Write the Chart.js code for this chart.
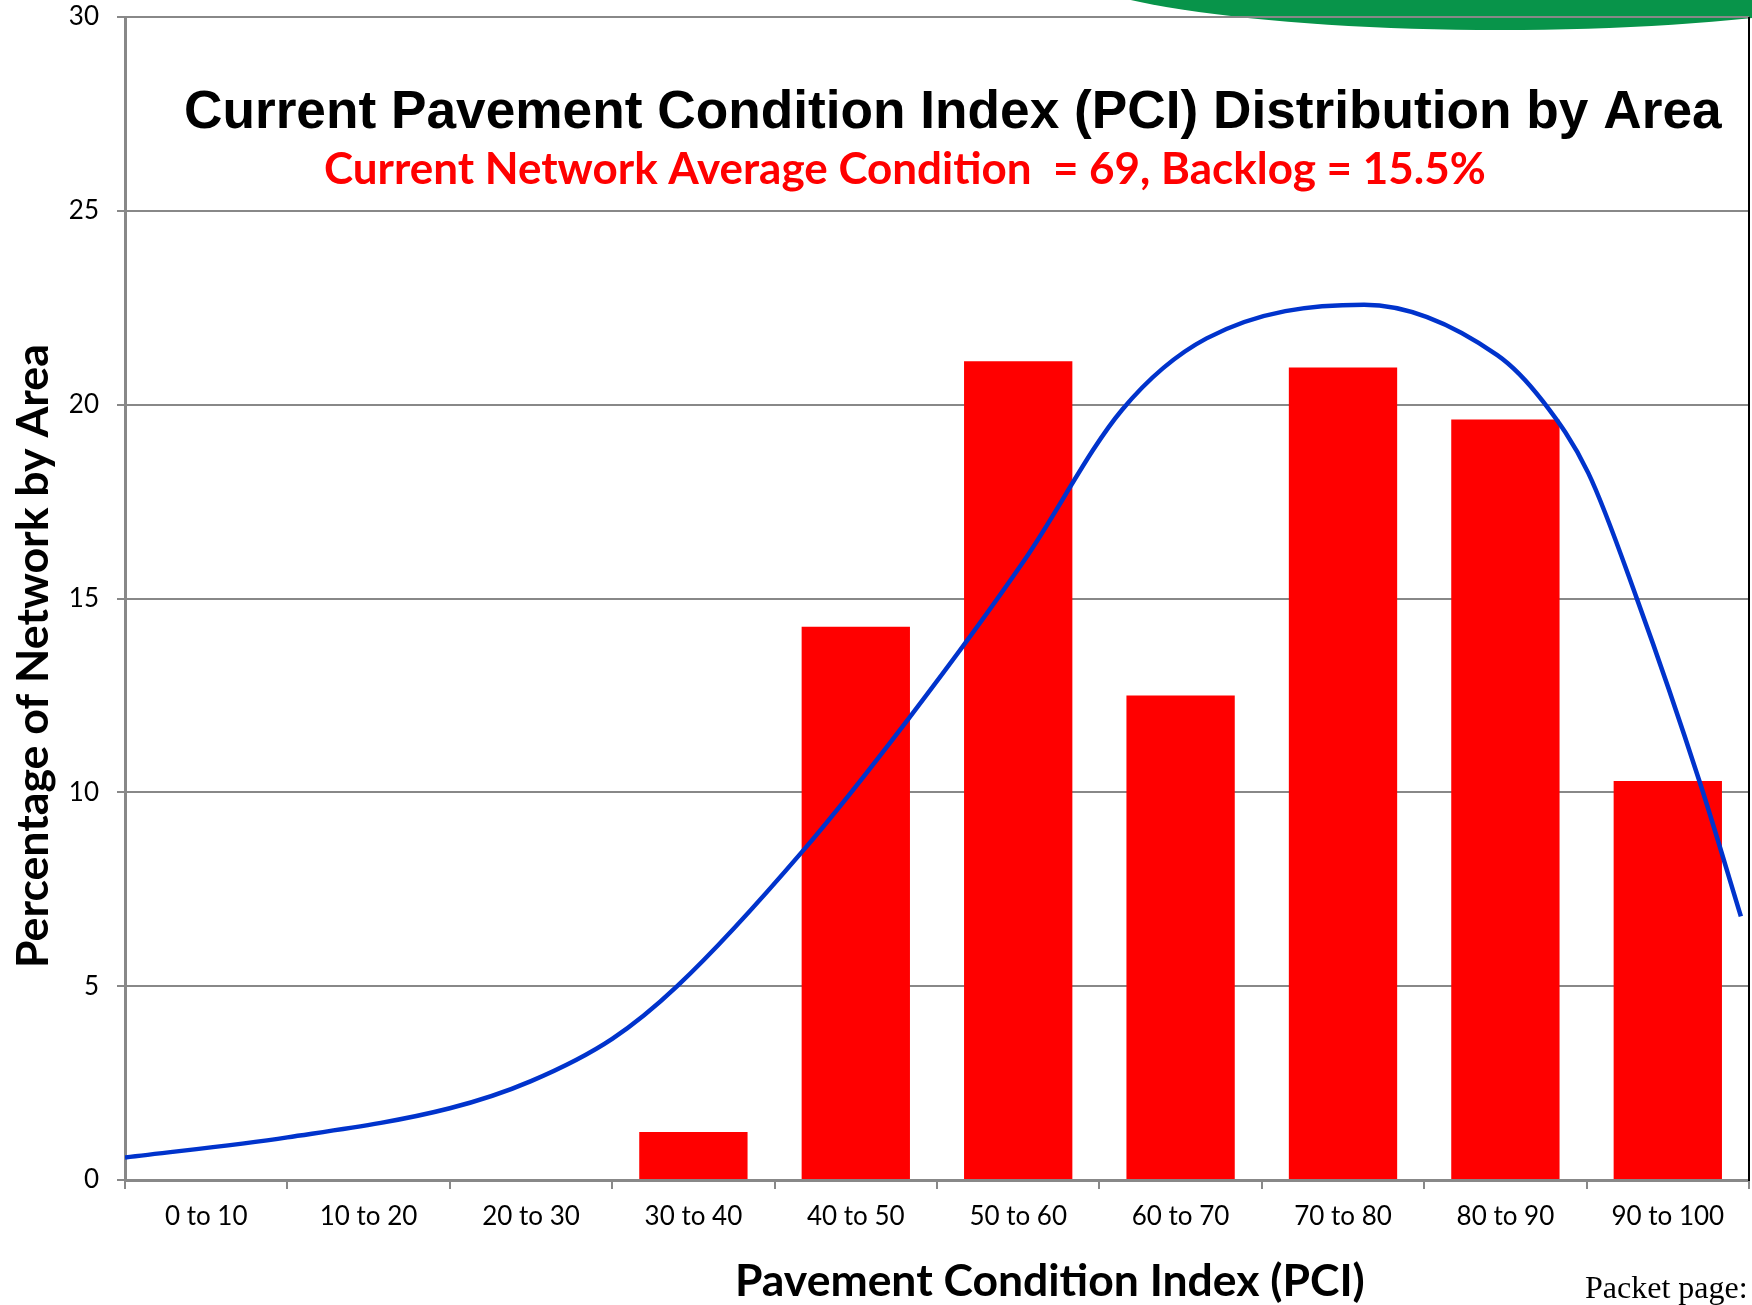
<!DOCTYPE html>
<html>
<head>
<meta charset="utf-8">
<title>Current PCI Distribution by Area</title>
<script src="https://cdn.jsdelivr.net/npm/chart.js@4.4.1/dist/chart.umd.min.js"></script>
<style>
  html, body { margin: 0; padding: 0; background: #fff; }
  #wrap { width: 1752px; height: 1305px; }
</style>
</head>
<body>
<div id="wrap"><canvas id="pciChart" width="1752" height="1305"></canvas></div>
<script>
// PCI bins and share of network area (%)
const categories = ['0 to 10', '10 to 20', '20 to 30', '30 to 40', '40 to 50',
  '50 to 60', '60 to 70', '70 to 80', '80 to 90', '90 to 100'];
const areaPercent = [0, 0, 0, 1.24, 14.27, 21.12, 12.5, 20.96, 19.62, 10.29];

// fitted distribution curve (PCI, %)
const curvePci = [0, 10, 20, 25, 30, 34, 41.7, 48.3, 55.4, 61.4, 66.6, 76.3, 84.5, 87.3, 90.1, 93.1, 97, 99.5];
const curvePercent = [0.58, 1.1, 1.85, 2.55, 3.64, 5.0, 8.47, 11.93, 16.0, 19.87, 21.71, 22.58, 21.28, 20.09, 18.24, 14.99, 10.22, 6.8];

const yTicks = { min: 0, max: 30, step: 5 };

const titleText = 'Current Pavement Condition Index (PCI) Distribution by Area';
const subtitleText = 'Current Network Average Condition  = 69, Backlog = 15.5%';
const xTitleText = 'Pavement Condition Index (PCI)';
const yTitleText = 'Percentage of Network by Area';
const footerText = 'Packet page:';

const tickFont = { family: 'Lato', size: 26 };
const AXIS_GREY = '#888888';

function fitFont(ctx, text, weight, family, width) {
  ctx.font = `${weight} 100px ${family}`;
  const size = 100 * width / ctx.measureText(text).width;
  ctx.font = `${weight} ${size}px ${family}`;
  return size;
}

const decorations = {
  id: 'decorations',
  beforeDraw(chart) {
    const ctx = chart.ctx;
    ctx.save();
    ctx.fillStyle = '#ffffff';
    ctx.fillRect(0, 0, chart.width, chart.height);
    // green swoosh peeking in at the top
    ctx.fillStyle = '#08944A';
    ctx.beginPath();
    ctx.ellipse(1500, -40, 450, 70, 0, 0, Math.PI * 2);
    ctx.fill();
    ctx.restore();
  },
  afterDraw(chart) {
    const { ctx, chartArea } = chart;
    ctx.save();

    // black right border of the plot
    ctx.strokeStyle = '#000';
    ctx.lineWidth = 2;
    ctx.beginPath();
    ctx.moveTo(chartArea.right, chartArea.top);
    ctx.lineTo(chartArea.right, chartArea.bottom + 1);
    ctx.stroke();

    ctx.textAlign = 'left';
    ctx.textBaseline = 'alphabetic';

    ctx.fillStyle = '#000';
    fitFont(ctx, titleText, 'bold', '"Liberation Sans", Arial, sans-serif', 1538);
    ctx.fillText(titleText, 184, 128);

    ctx.fillStyle = '#FF0000';
    fitFont(ctx, subtitleText, 'bold', 'Lato, sans-serif', 1162);
    ctx.fillText(subtitleText, 324, 184);

    ctx.fillStyle = '#000';
    fitFont(ctx, xTitleText, 'bold', 'Lato, sans-serif', 630);
    ctx.fillText(xTitleText, 735, 1296);

    ctx.save();
    ctx.translate(48, 968);
    ctx.rotate(-Math.PI / 2);
    fitFont(ctx, yTitleText, 'bold', 'Lato, sans-serif', 624);
    ctx.fillText(yTitleText, 0, 0);
    ctx.restore();

    ctx.font = '32px "Liberation Serif", "Times New Roman", serif';
    ctx.fillText(footerText, 1585, 1298);

    ctx.restore();
  }
};

const ctx = document.getElementById('pciChart').getContext('2d');
new Chart(ctx, {
  type: 'bar',
  data: {
    labels: categories,
    datasets: [
      {
        type: 'bar',
        label: 'Area',
        data: areaPercent,
        xAxisID: 'x',
        yAxisID: 'y',
        backgroundColor: '#FF0000',
        borderWidth: 0,
        grouped: false,
        barPercentage: 0.667,
        categoryPercentage: 1,
        order: 1
      },
      {
        type: 'line',
        label: 'Distribution',
        data: curvePci.map((x, i) => ({ x: x, y: curvePercent[i] })),
        xAxisID: 'x2',
        yAxisID: 'y',
        borderColor: '#0033CC',
        borderWidth: 4.5,
        pointRadius: 0,
        cubicInterpolationMode: 'monotone',
        fill: false,
        order: 0
      }
    ]
  },
  options: {
    responsive: false,
    animation: false,
    devicePixelRatio: 1,
    layout: { padding: { top: 0, right: 3, left: 0, bottom: 0 } },
    plugins: {
      legend: { display: false },
      title: { display: false },
      tooltip: { enabled: false }
    },
    scales: {
      x: {
        type: 'category',
        offset: true,
        grid: {
          offset: true,
          drawOnChartArea: false,
          drawTicks: true,
          tickLength: 9,
          color: AXIS_GREY,
          lineWidth: 2
        },
        border: { color: AXIS_GREY, width: 3 },
        ticks: { font: tickFont, color: '#000', padding: 12, maxRotation: 0, autoSkip: false },
        afterFit(scale) { scale.height = 125; }
      },
      x2: {
        type: 'linear',
        display: false,
        offset: false,
        grid: { offset: false },
        min: 0,
        max: 100
      },
      y: {
        min: yTicks.min,
        max: yTicks.max,
        ticks: { stepSize: yTicks.step, font: tickFont, color: '#000', padding: 18 },
        grid: { color: AXIS_GREY, lineWidth: 2, tickLength: 8 },
        border: { color: AXIS_GREY, width: 3 },
        afterFit(scale) {
          scale.width = 125;
          scale.paddingTop = 17;
          scale.paddingBottom = 0;
        }
      }
    }
  },
  plugins: [decorations]
});
</script>
</body>
</html>
